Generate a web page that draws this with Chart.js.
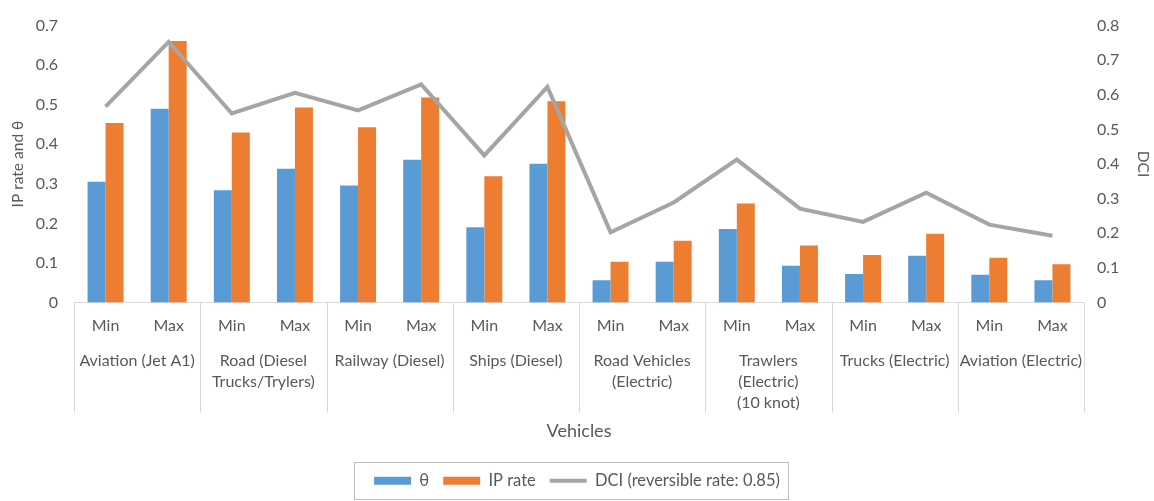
<!DOCTYPE html>
<html>
<head>
<meta charset="utf-8">
<script src="https://cdn.jsdelivr.net/npm/chart.js@4/dist/chart.umd.min.js"></script>
<style>
  html, body { margin: 0; padding: 0; background: #ffffff; }
  #wrap { width: 1154px; height: 501px; }
</style>
</head>
<body>
<div id="wrap"><canvas id="c" width="1154" height="501"></canvas></div>
<script>
// ---- data ----
const categories = ['Min','Max','Min','Max','Min','Max','Min','Max','Min','Max','Min','Max','Min','Max','Min','Max'];
const groups = [
  'Aviation (Jet A1)',
  ['Road (Diesel', 'Trucks/Trylers)'],
  'Railway (Diesel)',
  'Ships (Diesel)',
  ['Road Vehicles', '(Electric)'],
  ['Trawlers', '(Electric)', '(10 knot)'],
  'Trucks (Electric)',
  'Aviation (Electric)'
];
const thetaValues  = [0.305, 0.490, 0.284, 0.338, 0.296, 0.361, 0.190, 0.351, 0.056, 0.103, 0.186, 0.093, 0.072, 0.118, 0.070, 0.056];
const ipRateValues = [0.454, 0.661, 0.430, 0.493, 0.443, 0.518, 0.319, 0.509, 0.103, 0.156, 0.250, 0.144, 0.120, 0.174, 0.113, 0.097];
const dciValues    = [0.566, 0.753, 0.546, 0.606, 0.555, 0.630, 0.425, 0.623, 0.203, 0.289, 0.413, 0.271, 0.233, 0.317, 0.225, 0.193];
const seriesNames = ['θ', 'IP rate', 'DCI (reversible rate: 0.85)'];

const FONT = 'Lato, "Open Sans", sans-serif';
const TXT = '#595959';
const GRIDC = '#d9d9d9';

// separators & legend border plugin
const decor = {
  id: 'decor',
  afterDraw(chart) {
    const ctx = chart.ctx;
    const x = chart.scales.x;
    const ca = chart.chartArea;
    const cw = x.getPixelForValue(1) - x.getPixelForValue(0);
    ctx.save();
    ctx.strokeStyle = GRIDC;
    ctx.lineWidth = 1;
    for (let k = 0; k <= categories.length; k += 2) {
      const px = Math.round(x.getPixelForValue(k) - cw / 2) + 0.5;
      ctx.beginPath();
      ctx.moveTo(px, ca.bottom);
      ctx.lineTo(px, ca.bottom + 110);
      ctx.stroke();
    }
    // legend frame
    const lg = chart.legend;
    if (lg && lg.legendHitBoxes && lg.legendHitBoxes.length) {
      const hb = lg.legendHitBoxes;
      let l = Infinity, r = -Infinity;
      hb.forEach(b => { l = Math.min(l, b.left); r = Math.max(r, b.left + b.width); });
      const cy = hb[0].top + hb[0].height / 2;
      ctx.strokeStyle = '#bfbfbf';
      ctx.strokeRect(Math.round(l - 20) + 0.5, Math.round(cy - 19) + 0.5, Math.round(r - l + 28), 37);
    }
    ctx.restore();
  }
};

new Chart(document.getElementById('c'), {
  type: 'bar',
  data: {
    labels: categories,
    datasets: [
      { label: seriesNames[0], data: thetaValues, backgroundColor: '#5b9bd5', xAxisID: 'x', yAxisID: 'y', order: 1,
        categoryPercentage: 0.57, barPercentage: 1.0, pointStyle: 'rect' },
      { label: seriesNames[1], data: ipRateValues, backgroundColor: '#ed7d31', xAxisID: 'x', yAxisID: 'y', order: 1,
        categoryPercentage: 0.57, barPercentage: 1.0, pointStyle: 'rect' },
      { type: 'line', label: seriesNames[2], data: dciValues, borderColor: '#a5a5a5', backgroundColor: '#a5a5a5',
        borderWidth: 4, pointRadius: 0, tension: 0, xAxisID: 'x', yAxisID: 'y1', order: 0, pointStyle: 'line',
        borderJoinStyle: 'miter' }
    ]
  },
  options: {
    responsive: false,
    animation: false,
    devicePixelRatio: 1,
    layout: { padding: { top: 18, left: 0, right: 0, bottom: 2 } },
    plugins: {
      tooltip: { enabled: false },
      legend: {
        position: 'bottom',
        labels: {
          usePointStyle: true,
          pointStyleWidth: 37,
          boxHeight: 8,
          padding: 14,
          color: TXT,
          font: { family: FONT, size: 16.5 },
          sort: (a, b) => a.datasetIndex - b.datasetIndex
        }
      }
    },
    scales: {
      x: {
        type: 'category',
        position: 'bottom',
        offset: true,
        grid: { display: false, drawTicks: false },
        border: { display: true, color: GRIDC, width: 1 },
        ticks: { color: TXT, font: { family: FONT, size: 16 }, padding: 14, maxRotation: 0, autoSkip: false },
        afterFit: s => { s.height = 33; }
      },
      x2: {
        type: 'category',
        position: 'bottom',
        labels: groups,
        offset: true,
        grid: { display: false, drawTicks: false },
        border: { display: false },
        ticks: { color: TXT, font: { family: FONT, size: 16, lineHeight: '21px' }, padding: 15, maxRotation: 0, autoSkip: false },
        title: { display: true, text: 'Vehicles', color: TXT, font: { family: FONT, size: 18 }, padding: { top: 4, bottom: 17 } },
        afterFit: s => { s.height = 123; }
      },
      y: {
        position: 'left',
        min: 0, max: 0.7,
        grid: { display: false, drawTicks: false },
        border: { display: false },
        ticks: { stepSize: 0.1, color: TXT, font: { family: FONT, size: 16 }, padding: 16 },
        title: { display: true, text: 'IP rate and θ', color: TXT, font: { family: FONT, size: 15.5 }, padding: { top: 9, bottom: 4 } },
        afterFit: s => { s.width = 74; }
      },
      y1: {
        position: 'right',
        min: 0, max: 0.8,
        grid: { display: false, drawTicks: false },
        border: { display: false },
        ticks: { stepSize: 0.1, color: TXT, font: { family: FONT, size: 16 }, padding: 13 },
        title: { display: true, text: 'DCI', color: TXT, font: { family: FONT, size: 15.5 }, padding: { top: 2, bottom: 4 } },
        afterFit: s => { s.width = 70; }
      }
    }
  },
  plugins: [decor]
});
</script>
</body>
</html>
